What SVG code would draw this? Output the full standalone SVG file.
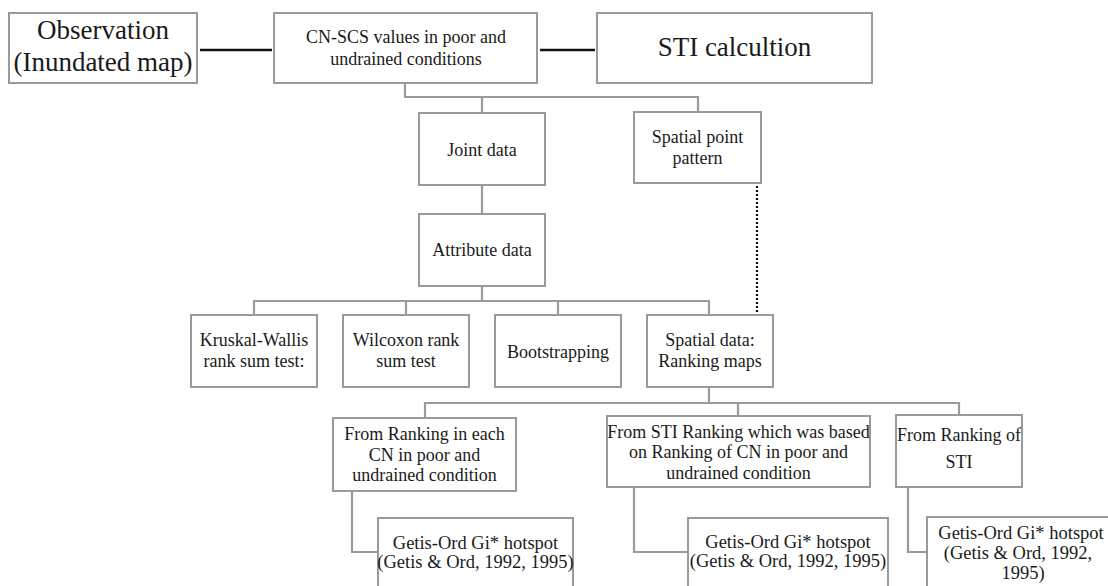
<svg xmlns="http://www.w3.org/2000/svg" width="1108" height="586" viewBox="0 0 1108 586">
<style>
.box{fill:#fff;stroke:#9a9a9a;stroke-width:2}
.t{font-family:"Liberation Serif","Times New Roman",serif;fill:#1a1a1a;text-anchor:middle}
.s18{font-size:18px}
.s185{font-size:18.5px}
.big{font-size:27px}
.con{fill:none;stroke:#9a9a9a;stroke-width:2.2}
.blk{fill:none;stroke:#111;stroke-width:2.5}
.dot{fill:none;stroke:#111;stroke-width:2.2;stroke-dasharray:2 2}
</style>
<rect width="1108" height="586" fill="#fff"/>
<g id="connectors">
<line class="blk" x1="200" y1="50" x2="272" y2="50"/>
<line class="blk" x1="540" y1="50" x2="595" y2="50"/>
<polyline class="con" points="405,83 405,97 698,97 698,112"/>
<line class="con" x1="482" y1="97" x2="482" y2="113"/>
<line class="con" x1="482" y1="185" x2="482" y2="214"/>
<line class="con" x1="482" y1="286" x2="482" y2="301"/>
<polyline class="con" points="254,315 254,301 709,301 709,315"/>
<line class="con" x1="406" y1="301" x2="406" y2="315"/>
<line class="con" x1="558" y1="301" x2="558" y2="315"/>
<line class="dot" x1="757" y1="186" x2="757" y2="313"/>
<line class="con" x1="709" y1="387" x2="709" y2="403"/>
<polyline class="con" points="425,418 425,403 959,403 959,415"/>
<line class="con" x1="738" y1="403" x2="738" y2="416"/>
<polyline class="con" points="352,491 352,552 378,552"/>
<polyline class="con" points="634,487 634,552 688,552"/>
<polyline class="con" points="908,487 908,552 927,552"/>
</g>
<g id="observation">
<rect class="box" x="9" y="13" width="188" height="70"/>
<text class="t big" x="103" y="39">Observation</text>
<text class="t big" x="103" y="71">(Inundated map)</text>
</g>
<g id="cn-scs">
<rect class="box" x="274" y="13" width="263" height="70"/>
<text class="t s18" x="406" y="43">CN-SCS values in poor and</text>
<text class="t s18" x="406" y="65">undrained conditions</text>
</g>
<g id="sti-calc">
<rect class="box" x="597" y="13" width="275" height="70"/>
<text class="t big" x="734.5" y="56">STI calcultion</text>
</g>
<g id="joint-data">
<rect class="box" x="419" y="113" width="126" height="72"/>
<text class="t s18" x="482" y="156">Joint data</text>
</g>
<g id="spatial-point">
<rect class="box" x="634" y="112" width="127" height="71"/>
<text class="t s18" x="697.5" y="143">Spatial point</text>
<text class="t s18" x="697.5" y="164">pattern</text>
</g>
<g id="attribute-data">
<rect class="box" x="419" y="214" width="126" height="72"/>
<text class="t s18" x="482" y="256">Attribute data</text>
</g>
<g id="kruskal">
<rect class="box" x="191" y="315" width="126" height="72"/>
<text class="t s18" x="254" y="346">Kruskal-Wallis</text>
<text class="t s18" x="254" y="367">rank sum test:</text>
</g>
<g id="wilcoxon">
<rect class="box" x="343" y="315" width="126" height="72"/>
<text class="t s18" x="406" y="346">Wilcoxon rank</text>
<text class="t s18" x="406" y="367">sum test</text>
</g>
<g id="bootstrapping">
<rect class="box" x="495" y="315" width="126" height="72"/>
<text class="t s18" x="558" y="358">Bootstrapping</text>
</g>
<g id="spatial-data">
<rect class="box" x="647" y="315" width="126" height="72"/>
<text class="t s18" x="710" y="346">Spatial data:</text>
<text class="t s18" x="710" y="367">Ranking maps</text>
</g>
<g id="rank-each-cn">
<rect class="box" x="333" y="418" width="183" height="73"/>
<text class="t s18" x="424.5" y="440">From Ranking in each</text>
<text class="t s18" x="424.5" y="460.5">CN in poor and</text>
<text class="t s18" x="424.5" y="481">undrained condition</text>
</g>
<g id="sti-ranking">
<rect class="box" x="607" y="416" width="263" height="71"/>
<text class="t s18" x="738.5" y="437.5">From STI Ranking which was based</text>
<text class="t s18" x="738.5" y="458">on Ranking of CN in poor and</text>
<text class="t s18" x="738.5" y="478.5">undrained condition</text>
</g>
<g id="ranking-sti">
<rect class="box" x="896" y="415" width="126" height="72"/>
<text class="t s18" x="959" y="441">From Ranking of</text>
<text class="t s18" x="959" y="468">STI</text>
</g>
<g id="getis-1">
<rect class="box" x="378" y="518" width="195" height="80"/>
<text class="t s185" x="475.5" y="549">Getis-Ord Gi* hotspot</text>
<text class="t s185" x="475.5" y="568">(Getis &amp; Ord, 1992, 1995)</text>
</g>
<g id="getis-2">
<rect class="box" x="688" y="518" width="200" height="80"/>
<text class="t s185" x="788" y="548">Getis-Ord Gi* hotspot</text>
<text class="t s185" x="788" y="567">(Getis &amp; Ord, 1992, 1995)</text>
</g>
<g id="getis-3">
<rect class="box" x="927" y="517" width="190" height="80"/>
<text class="t s185" x="1021" y="539">Getis-Ord Gi* hotspot</text>
<text class="t s185" x="1018" y="559">(Getis &amp; Ord, 1992,</text>
<text class="t s185" x="1023" y="579">1995)</text>
</g>
</svg>
